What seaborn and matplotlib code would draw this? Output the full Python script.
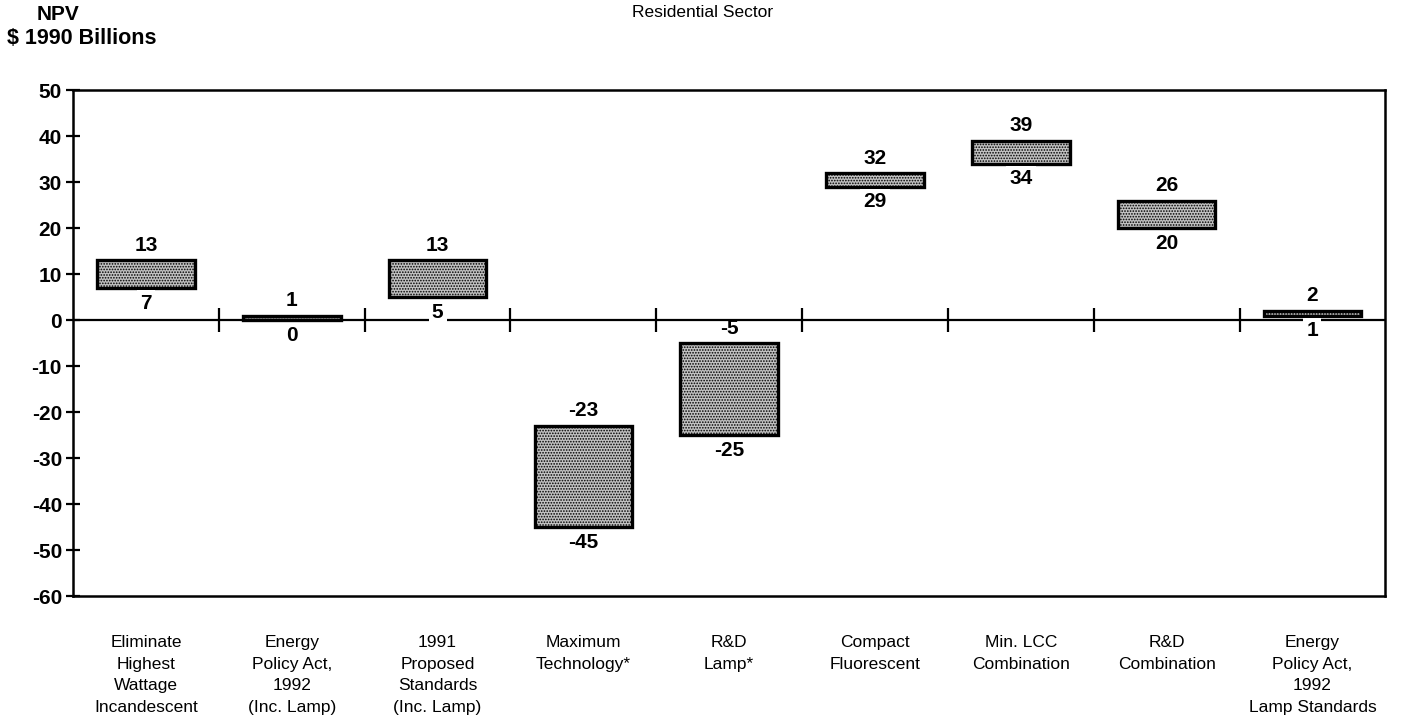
import matplotlib
matplotlib.use("Agg")
import matplotlib.pyplot as plt
import seaborn as sns
import pandas as pd

# Datos: rango del NPV (miles de millones, $1990) por opcion
categories = [
    "Eliminate\nHighest\nWattage\nIncandescent",
    "Energy\nPolicy Act,\n1992\n(Inc. Lamp)",
    "1991\nProposed\nStandards\n(Inc. Lamp)",
    "Maximum\nTechnology*",
    "R&D\nLamp*",
    "Compact\nFluorescent",
    "Min. LCC\nCombination",
    "R&D\nCombination",
    "Energy\nPolicy Act,\n1992\nLamp Standards",
]
npv_low = [7, 0, 5, -45, -25, 29, 34, 20, 1]
npv_high = [13, 1, 13, -23, -5, 32, 39, 26, 2]
y_ticks = [50, 40, 30, 20, 10, 0, -10, -20, -30, -40, -50, -60]

sns.set_style("white")
plt.rcParams.update({
    "font.family": ["Liberation Sans", "DejaVu Sans"],
    "font.size": 13,
    "text.color": "black",
    "xtick.color": "black",
    "ytick.color": "black",
    "axes.unicode_minus": False,
    "hatch.linewidth": 0.8,
    "hatch.color": "#222222",
})

df = pd.DataFrame({
    "option": categories,
    "low": npv_low,
    "high": npv_high,
})
df["span"] = df["high"] - df["low"]

fig = plt.figure(figsize=(14.05, 7.28), dpi=100)
ax = fig.add_axes([0.052, 0.181, 0.934, 0.695])

sns.barplot(
    data=df, x="option", y="span", ax=ax,
    bottom=df["low"].values, width=0.67, errorbar=None,
    color="#c2c2c2", edgecolor="black", linewidth=2.4, hatch="......",
)

# linea de cero con marcas entre categorias
n = len(categories)
ax.axhline(0, color="black", lw=1.6, zorder=1)
ax.vlines([i + 0.5 for i in range(n - 1)], -2.6, 2.6, color="black", lw=1.6, zorder=1)

# etiquetas de valores
for i, row in df.iterrows():
    ax.annotate(f"{row['high']}", (i, row["high"]), xytext=(0, 4),
                textcoords="offset points", ha="center", va="bottom",
                fontsize=15, fontweight="bold")
    ax.annotate(f"{row['low']}", (i, row["low"]), xytext=(0, -4),
                textcoords="offset points", ha="center", va="top",
                fontsize=15, fontweight="bold",
                bbox=dict(boxstyle="square,pad=0.15", fc="white", ec="none"))

ax.set_xlim(-0.5, n - 0.5)
ax.set_ylim(-60, 50)
ax.set_yticks(y_ticks)
ax.set_xlabel("")
ax.set_ylabel("")

for s in ax.spines.values():
    s.set_visible(True)
    s.set_color("black")
    s.set_linewidth(1.8)

ax.tick_params(axis="y", direction="inout", length=10, width=1.6, left=True,
               labelsize=15, pad=3)
ax.tick_params(axis="x", length=0, pad=28)
for lbl in ax.get_yticklabels():
    lbl.set_fontweight("bold")
for lbl in ax.get_xticklabels():
    lbl.set_fontfamily(["Liberation Sans Narrow", "Liberation Sans", "DejaVu Sans"])
    lbl.set_fontsize(12.5)
    lbl.set_fontweight("normal")
    lbl.set_linespacing(1.55)
    lbl.set_verticalalignment("top")

fig.text(0.5, 0.983, "Residential Sector", ha="center", va="center",
         fontsize=12.5, fontweight="normal")
fig.text(0.041, 0.980, "NPV", ha="center", va="center", fontsize=15, fontweight="bold")
fig.text(0.005, 0.947, "$ 1990 Billions", ha="left", va="center",
         fontsize=15.5, fontweight="bold")

fig.savefig("out.png", dpi=100)
